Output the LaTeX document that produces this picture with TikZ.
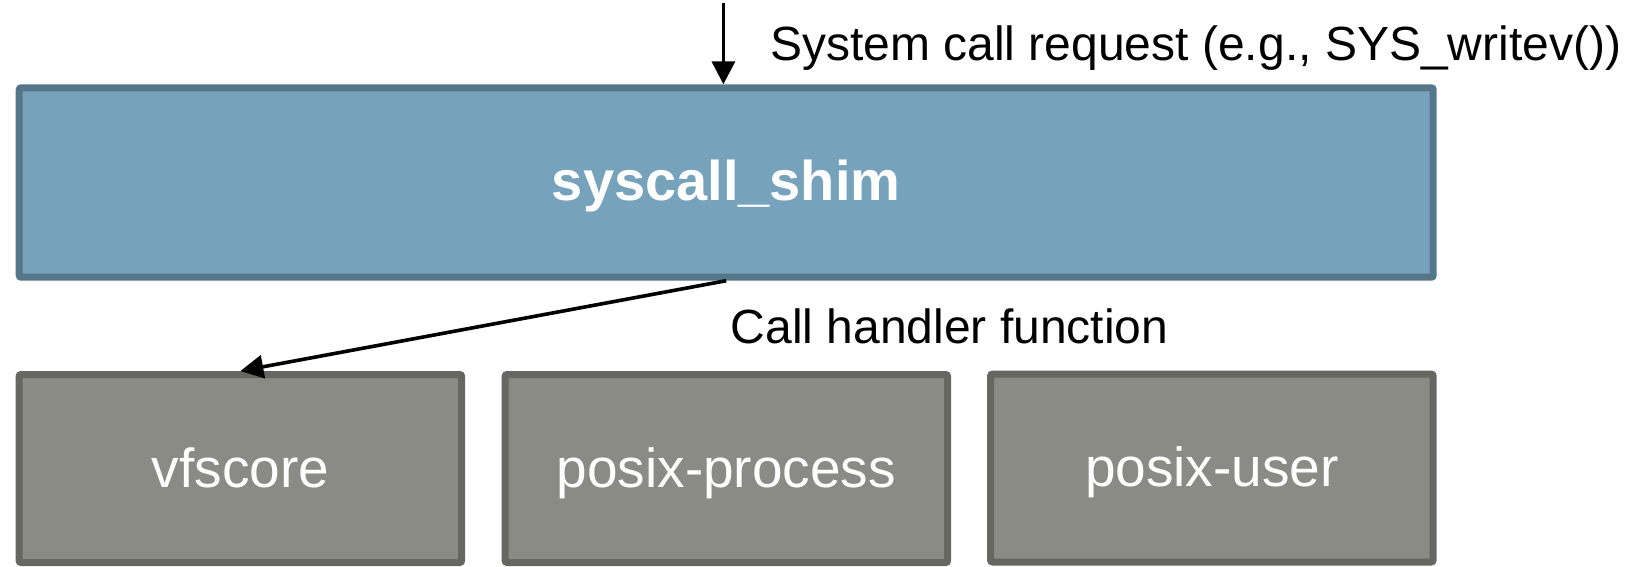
\documentclass[tikz,border=0pt]{standalone}
\usepackage{fontspec}
\setmainfont{Liberation Sans}
\usetikzlibrary{arrows.meta}

\definecolor{shimfill}{HTML}{76A2BB}
\definecolor{shimline}{HTML}{557789}
\definecolor{libfill}{HTML}{8B8B85}
\definecolor{libline}{HTML}{676762}

\begin{document}
\begin{tikzpicture}[x=1pt, y=-1pt,
  box/.style={rectangle, rounded corners=2pt, line width=7pt, inner sep=0pt, text=white},
  shimbox/.style={box, fill=shimfill, draw=shimline,
    minimum width=1414pt, minimum height=189.4pt,
    font=\fontsize{56}{67}\selectfont\bfseries, text height=38pt, text depth=3pt},
  libbox/.style={box, fill=libfill, draw=libline,
    minimum width=442.5pt, minimum height=188pt,
    font=\fontsize{55}{66}\selectfont, text height=40pt, text depth=3pt},
  flow/.style={-{Triangle[length=23pt, width=23pt]}, line width=3.6pt},
  note/.style={font=\fontsize{48}{58}\selectfont, inner sep=0pt, anchor=base west}]

  \useasboundingbox (0,0) rectangle (1635,566);

  % shim layer
  \node[shimbox] (shim) at (726.2,182.5) {syscall\_shim};

  % library layer
  \node[libbox] (vfs)  at (240.35,468.5) {vfscore};
  \node[libbox] (proc) at (726.35,468.5) {posix-process};
  \node[libbox] (user) at (1211.85,468)  {posix-user};

  % incoming request
  \coordinate (req) at ([xshift=-2.8pt]shim.north |- 0,3);
  \draw[flow] (req) -- (req |- shim.north);
  \node[note] (reqlabel) at (770,60) {System call request (e.g., SYS\_writev())};

  % dispatch to handler
  \draw[flow] (shim.south) -- (vfs.north);
  \node[note] (calllabel) at (730.6,343) {Call handler function};
\end{tikzpicture}
\end{document}
